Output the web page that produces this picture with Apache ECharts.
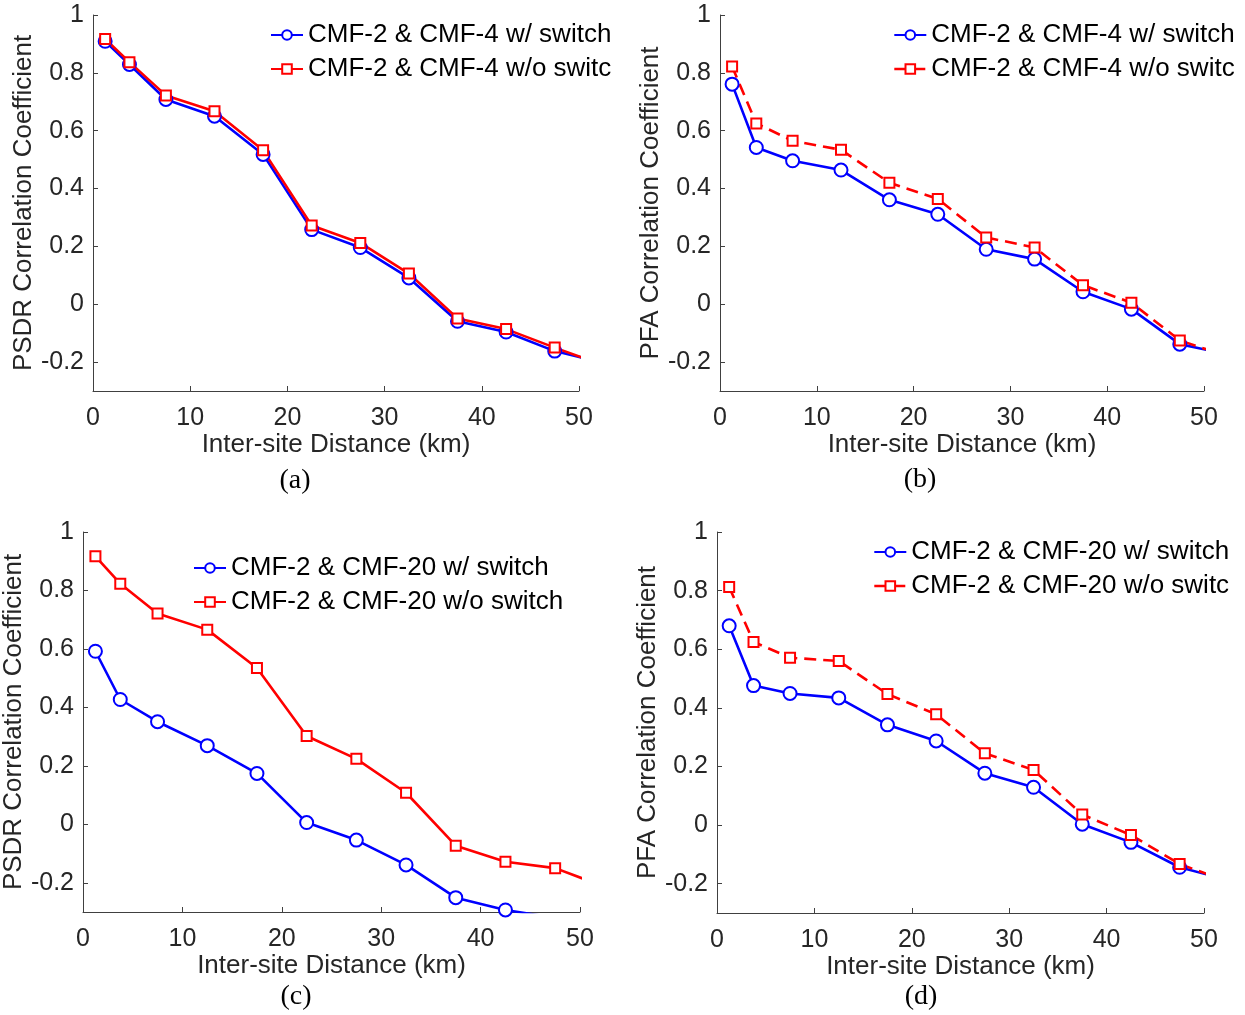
<!DOCTYPE html>
<html>
<head>
<meta charset="utf-8">
<script src="https://cdn.jsdelivr.net/npm/echarts@6/dist/echarts.min.js"></script>
<style>
  html, body { margin: 0; padding: 0; background: #fff; }
  #chart { width: 1245px; height: 1015px; }
</style>
</head>
<body>
<div id="chart"></div>
<script>
// Inter-site distance bin centres (km); the last bin lies past the 50 km axis limit
const distanceKm = [1.25, 3.75, 7.5, 12.5, 17.5, 22.5, 27.5, 32.5, 37.5, 42.5, 47.5, 52.5];

// y-axis tick values shared by all four panels
const yTickValues = [-0.2, 0, 0.2, 0.4, 0.6, 0.8, 1];

// (a) PSDR correlation, CMF-2 & CMF-4
const psdrCmf4With    = [0.909, 0.829, 0.708, 0.650, 0.518, 0.258, 0.196, 0.091, -0.059, -0.096, -0.162, -0.202];
const psdrCmf4Without = [0.917, 0.837, 0.722, 0.667, 0.532, 0.272, 0.212, 0.106, -0.049, -0.086, -0.150, -0.210];

// (b) PFA correlation, CMF-2 & CMF-4
const pfaCmf4With     = [0.761, 0.542, 0.496, 0.464, 0.361, 0.311, 0.190, 0.156, 0.043, -0.017, -0.138, -0.174];
const pfaCmf4Without  = [0.822, 0.625, 0.565, 0.534, 0.420, 0.364, 0.231, 0.196, 0.066, 0.005, -0.125, -0.181];

// (c) PSDR correlation, CMF-2 & CMF-20
const psdrCmf20With    = [0.592, 0.427, 0.351, 0.269, 0.174, 0.006, -0.054, -0.139, -0.251, -0.293, -0.320, null];
const psdrCmf20Without = [0.917, 0.823, 0.721, 0.666, 0.535, 0.302, 0.224, 0.108, -0.073, -0.128, -0.150, -0.214];

// (d) PFA correlation, CMF-2 & CMF-20
const pfaCmf20With     = [0.680, 0.476, 0.449, 0.434, 0.342, 0.287, 0.177, 0.129, 0.003, -0.059, -0.144, -0.188];
const pfaCmf20Without  = [0.812, 0.625, 0.571, 0.560, 0.447, 0.378, 0.245, 0.188, 0.036, -0.034, -0.133, -0.193];

const NAME_4_WITH = 'CMF-2 & CMF-4 w/ switch';
const NAME_4_WITHOUT = 'CMF-2 & CMF-4 w/o switch';
const NAME_20_WITH = 'CMF-2 & CMF-20 w/ switch';
const NAME_20_WITHOUT = 'CMF-2 & CMF-20 w/o switch';

const SANS = '"Liberation Sans", Arial, Helvetica, sans-serif';
const SERIF = '"Liberation Serif", "Times New Roman", serif';
const AXIS_COLOR = '#404040';
const TEXT_COLOR = '#262626';
const BLUE = '#0000ff';
const RED = '#ff0000';
const DASH = [12, 7];

function pairs(values) {
  const out = [];
  distanceKm.forEach((x, i) => { if (values[i] !== null) out.push([x, values[i]]); });
  return out;
}

const grids = [
  { left: 93,  top: 15,  width: 486, height: 376 },
  { left: 720, top: 15,  width: 484, height: 376 },
  { left: 83,  top: 532, width: 497, height: 380 },
  { left: 717, top: 532, width: 487, height: 381 }
].map(g => Object.assign({ outerBoundsMode: 'none', containLabel: false }, g));

function xAxis(gridIndex, nameGap) {
  return {
    type: 'value', gridIndex, min: 0, max: 50, interval: 10,
    name: 'Inter-site Distance (km)', nameLocation: 'middle', nameGap,
    nameTextStyle: { fontFamily: SANS, fontSize: 26, color: TEXT_COLOR },
    axisLine: { onZero: false, lineStyle: { color: AXIS_COLOR, width: 1 } },
    axisTick: { inside: true, length: 5, lineStyle: { color: AXIS_COLOR, width: 1 } },
    axisLabel: { fontFamily: SANS, fontSize: 25, color: TEXT_COLOR, margin: 15 },
    splitLine: { show: false }
  };
}

function yAxis(gridIndex, name, nameGap) {
  return {
    type: 'value', gridIndex, min: -0.3, max: 1,
    name, nameLocation: 'middle', nameGap,
    nameTextStyle: { fontFamily: SANS, fontSize: 26, color: TEXT_COLOR },
    axisLine: { show: true, onZero: false, lineStyle: { color: AXIS_COLOR, width: 1 } },
    axisTick: { show: true, inside: true, length: 5, customValues: yTickValues,
                lineStyle: { color: AXIS_COLOR, width: 1 } },
    axisLabel: { fontFamily: SANS, fontSize: 25, color: TEXT_COLOR, margin: 9,
                 customValues: yTickValues,
                 formatter: v => String(Math.round(v * 10) / 10) },
    splitLine: { show: false }
  };
}

function blueSeries(idx, name, values) {
  return {
    type: 'line', name, xAxisIndex: idx, yAxisIndex: idx, data: pairs(values),
    symbol: 'emptyCircle', symbolSize: 13, clip: true,
    lineStyle: { color: BLUE, width: 2.6 },
    itemStyle: { color: BLUE, borderColor: BLUE, borderWidth: 2.5 },
    emphasis: { disabled: true }, animation: false
  };
}

function redSeries(idx, name, values, dashed) {
  return {
    type: 'line', name, xAxisIndex: idx, yAxisIndex: idx, data: pairs(values),
    symbol: 'emptyRect', symbolSize: 10, clip: true,
    lineStyle: { color: RED, width: 2.6, type: dashed ? DASH : 'solid' },
    itemStyle: { color: RED, borderColor: RED, borderWidth: 1.8 },
    emphasis: { disabled: true }, animation: false
  };
}

function legend(left, top, names, textWidth, dashedSecond) {
  const cfg = {
    orient: 'vertical', left, top, itemWidth: 32, itemHeight: 12, itemGap: 8,
    padding: 0, selectedMode: false,
    textStyle: { fontFamily: SANS, fontSize: 26, color: '#000', lineHeight: 26 },
    data: names.map((n, i) => {
      const item = { name: n };
      if (i === 1 && dashedSecond) item.lineStyle = { type: DASH, color: RED, width: 2.6 };
      return item;
    })
  };
  if (textWidth) {
    cfg.textStyle.width = textWidth;
    cfg.textStyle.overflow = 'truncate';
    cfg.textStyle.ellipsis = '';
  }
  return cfg;
}

function panelLabel(text, x, y) {
  return {
    type: 'text', x, y,
    style: { text, font: '28px ' + SERIF, fill: '#000', align: 'center', verticalAlign: 'middle' }
  };
}

const chart = echarts.init(document.getElementById('chart'), null, { renderer: 'canvas' });
chart.setOption({
  backgroundColor: '#fff',
  animation: false,
  grid: grids,
  xAxis: [xAxis(0, 40), xAxis(1, 37), xAxis(2, 38), xAxis(3, 40)],
  yAxis: [
    yAxis(0, 'PSDR Correlation Coefficient', 50),
    yAxis(1, 'PFA Correlation Coefficient', 49),
    yAxis(2, 'PSDR Correlation Coefficient', 47),
    yAxis(3, 'PFA Correlation Coefficient', 55)
  ],
  legend: [
    legend(270, 22, [NAME_4_WITH, NAME_4_WITHOUT], 312, false),
    legend(893, 22, [NAME_4_WITH, NAME_4_WITHOUT], 312, true),
    legend(193, 555, [NAME_20_WITH, NAME_20_WITHOUT], null, false),
    legend(873, 539, [NAME_20_WITH, NAME_20_WITHOUT], 320, true)
  ],
  series: [
    blueSeries(0, NAME_4_WITH, psdrCmf4With),
    redSeries(0, NAME_4_WITHOUT, psdrCmf4Without, false),
    blueSeries(1, NAME_4_WITH, pfaCmf4With),
    redSeries(1, NAME_4_WITHOUT, pfaCmf4Without, true),
    blueSeries(2, NAME_20_WITH, psdrCmf20With),
    redSeries(2, NAME_20_WITHOUT, psdrCmf20Without, false),
    blueSeries(3, NAME_20_WITH, pfaCmf20With),
    redSeries(3, NAME_20_WITHOUT, pfaCmf20Without, true)
  ],
  graphic: [
    panelLabel('(a)', 295, 481),
    panelLabel('(b)', 920, 480),
    panelLabel('(c)', 296, 997),
    panelLabel('(d)', 921, 997)
  ]
});
</script>
</body>
</html>
